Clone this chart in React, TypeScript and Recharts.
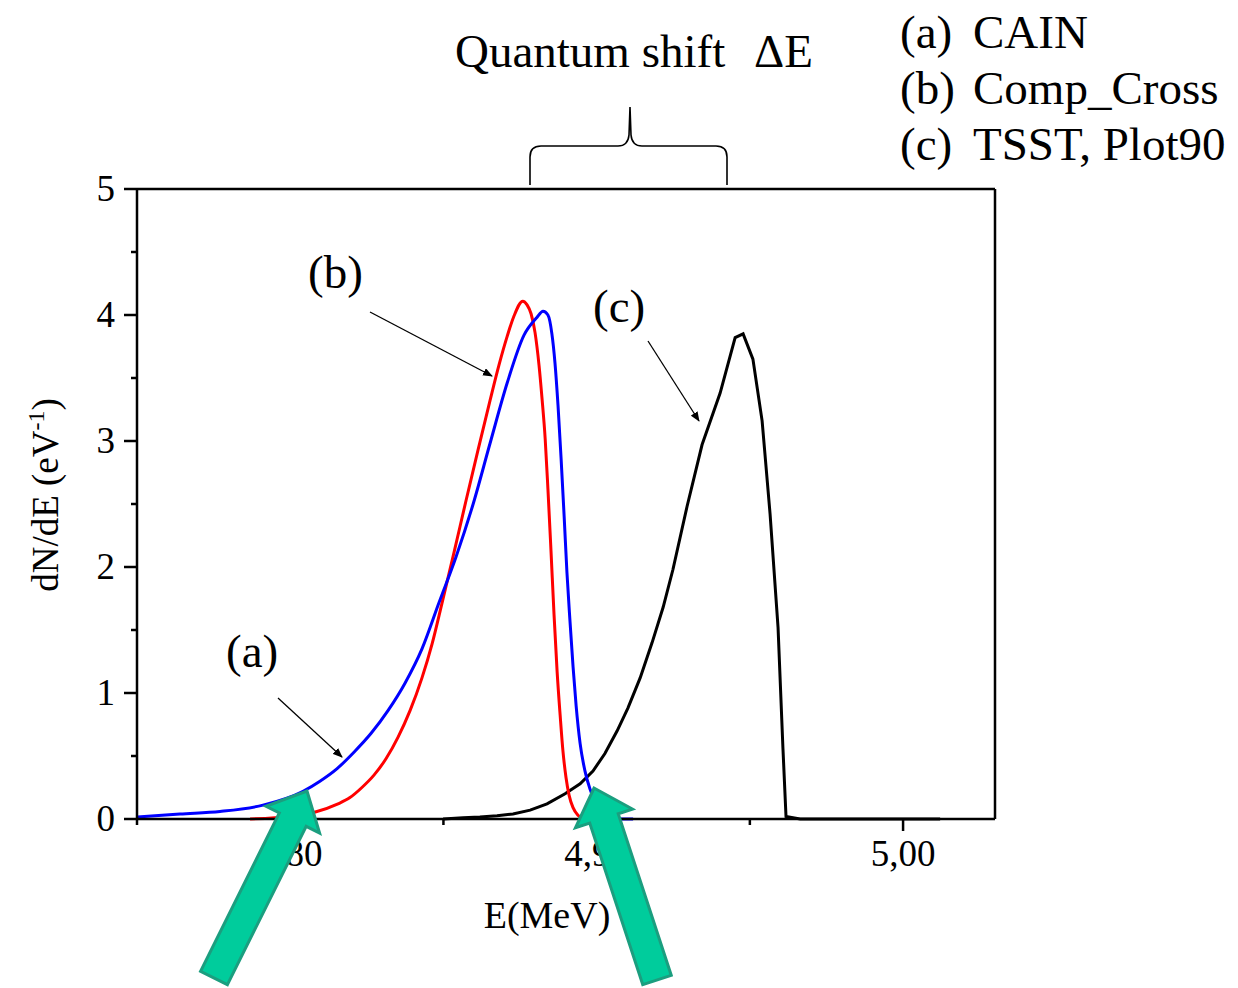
import { LineChart, Line, XAxis, YAxis, ReferenceLine } from "recharts";

// (a) CAIN
const cainEnergy = [4.75, 4.764, 4.7771, 4.7911, 4.8042, 4.8097, 4.8153, 4.8208, 4.8264, 4.8319, 4.8375, 4.843, 4.8486, 4.8541, 4.8597, 4.8652, 4.8708, 4.8763, 4.8805, 4.8825, 4.8841, 4.8854, 4.8864, 4.8874, 4.8884, 4.8894, 4.8903, 4.8913, 4.8923, 4.8933, 4.8946, 4.8962, 4.8978, 4.8995, 4.9011, 4.9034, 4.9076, 4.9119];
const cainValues = [0.015, 0.04, 0.06, 0.11, 0.22, 0.3, 0.4, 0.53, 0.68, 0.86, 1.08, 1.35, 1.72, 2.08, 2.5, 2.98, 3.46, 3.84, 3.98, 4.03, 4.0, 3.85, 3.62, 3.28, 2.86, 2.4, 1.96, 1.57, 1.21, 0.9, 0.6, 0.38, 0.24, 0.14, 0.07, 0.02, 0, 0];

// (b) Comp_Cross
const compEnergy = [4.7869, 4.7999, 4.8074, 4.8156, 4.8195, 4.8234, 4.8274, 4.8313, 4.8352, 4.8391, 4.843, 4.8463, 4.8495, 4.8535, 4.8574, 4.8613, 4.8652, 4.8681, 4.8708, 4.873, 4.8759, 4.8773, 4.8786, 4.8799, 4.8812, 4.8822, 4.8832, 4.8841, 4.8851, 4.8861, 4.8871, 4.8881, 4.889, 4.89, 4.891, 4.8923, 4.8939, 4.8956, 4.8995];
const compValues = [0, 0.02, 0.05, 0.12, 0.17, 0.25, 0.35, 0.48, 0.65, 0.86, 1.12, 1.39, 1.71, 2.12, 2.53, 2.93, 3.32, 3.6, 3.83, 3.99, 4.11, 4.08, 4.01, 3.86, 3.6, 3.33, 3.02, 2.62, 2.13, 1.62, 1.17, 0.82, 0.54, 0.33, 0.19, 0.09, 0.03, 0.005, 0];

// (c) TSST, Plot90
const tsstEnergy = [4.8499, 4.8564, 4.8619, 4.8675, 4.8727, 4.8783, 4.8838, 4.8897, 4.8946, 4.8988, 4.9027, 4.9067, 4.9102, 4.9142, 4.9181, 4.9217, 4.9249, 4.9295, 4.9344, 4.9403, 4.9452, 4.9478, 4.951, 4.954, 4.9566, 4.9592, 4.9608, 4.9618, 4.9664, 5.0121];
const tsstValues = [0, 0.01, 0.015, 0.025, 0.04, 0.07, 0.12, 0.2, 0.28, 0.38, 0.52, 0.7, 0.88, 1.12, 1.4, 1.68, 1.98, 2.48, 2.97, 3.38, 3.82, 3.85, 3.65, 3.16, 2.42, 1.52, 0.56, 0.02, 0, 0];

const xTicks = [4.75, 4.8, 4.85, 4.9, 4.95, 5.0];
const yTicks = [0, 0.5, 1, 1.5, 2, 2.5, 3, 3.5, 4, 4.5, 5];
const legendTags = ["(a)", "(b)", "(c)"];
const legendNames = ["CAIN", "Comp_Cross", "TSST, Plot90"];

const FONT = "'Liberation Serif', 'Times New Roman', serif";

const toPoints = (xs: number[], ys: number[]) => xs.map((e, i) => ({ e, v: ys[i] }));

const renderXTick = (props: any) => {
  const { x, y, payload } = props;
  const major = Math.round(payload.value * 100) % 10 === 0;
  return (
    <g>
      <line x1={x} y1={y} x2={x} y2={y + (major ? 12 : 6)} stroke="#000" strokeWidth={2.5} />
      {major && (
        <text x={x} y={y + 47} textAnchor="middle" fontSize={37} fontFamily={FONT} fill="#000">
          {payload.value.toFixed(2).replace(".", ",")}
        </text>
      )}
    </g>
  );
};

const renderYTick = (props: any) => {
  const { x, y, payload } = props;
  const major = Number.isInteger(payload.value);
  return (
    <g>
      <line x1={x} y1={y} x2={x - (major ? 13 : 6)} y2={y} stroke="#000" strokeWidth={2.5} />
      {major && (
        <text x={x - 22} y={y + 12} textAnchor="end" fontSize={37} fontFamily={FONT} fill="#000">
          {payload.value}
        </text>
      )}
    </g>
  );
};

const XLabel = (props: any) => {
  const { viewBox } = props;
  return (
    <text x={viewBox.x + viewBox.width / 2 - 19} y={viewBox.y + 109} textAnchor="middle" fontSize={38} fontFamily={FONT} fill="#000">
      E(MeV)
    </text>
  );
};

const YLabel = (props: any) => {
  const { viewBox } = props;
  const cx = viewBox.x + 28;
  const cy = viewBox.y + viewBox.height / 2 - 9;
  return (
    <text x={cx} y={cy} transform={`rotate(-90 ${cx} ${cy})`} textAnchor="middle" fontSize={37} fontFamily={FONT} fill="#000">
      dN/dE (eV<tspan dy={-14} fontSize={24}>-1</tspan><tspan dy={14}>)</tspan>
    </text>
  );
};

// big green pointer arrow, from tail centre to tip
function greenArrow(tx: number, ty: number, hx: number, hy: number) {
  const shaft = 30, head = 60, headLen = 32;
  const dx = hx - tx, dy = hy - ty;
  const len = Math.hypot(dx, dy);
  const ux = dx / len, uy = dy / len;
  const px = -uy, py = ux;
  const bx = hx - ux * headLen, by = hy - uy * headLen;
  const pts = [
    [tx + (px * shaft) / 2, ty + (py * shaft) / 2],
    [bx + (px * shaft) / 2, by + (py * shaft) / 2],
    [bx + (px * head) / 2, by + (py * head) / 2],
    [hx, hy],
    [bx - (px * head) / 2, by - (py * head) / 2],
    [bx - (px * shaft) / 2, by - (py * shaft) / 2],
    [tx - (px * shaft) / 2, ty - (py * shaft) / 2],
  ];
  return pts.map((p) => p.join(",")).join(" ");
}

export default function App() {
  return (
    <div style={{ position: "absolute", left: 0, top: 0, width: 1238, height: 988, background: "#fff" }}>
      <LineChart width={1238} height={988} margin={{ top: 189, right: 243, bottom: 39, left: 30 }}>
        <XAxis
          type="number"
          dataKey="e"
          domain={[4.75, 5.03]}
          ticks={xTicks}
          interval={0}
          tick={renderXTick}
          tickSize={0}
          tickMargin={0}
          tickLine={false}
          height={130}
          axisLine={{ stroke: "#000", strokeWidth: 2.5 }}
          label={<XLabel />}
        />
        <YAxis
          type="number"
          domain={[0, 5]}
          ticks={yTicks}
          interval={0}
          tick={renderYTick}
          tickSize={0}
          tickMargin={0}
          tickLine={false}
          width={107}
          axisLine={{ stroke: "#000", strokeWidth: 2.5 }}
          label={<YLabel />}
        />
        <ReferenceLine y={5} stroke="#000" strokeWidth={2.5} />
        <ReferenceLine x={5.03} stroke="#000" strokeWidth={2.5} />
        <Line data={toPoints(tsstEnergy, tsstValues)} dataKey="v" type="linear" stroke="#000" strokeWidth={3} dot={false} activeDot={false} isAnimationActive={false} />
        <Line data={toPoints(compEnergy, compValues)} dataKey="v" type="monotone" stroke="#ff0000" strokeWidth={3} dot={false} activeDot={false} isAnimationActive={false} />
        <Line data={toPoints(cainEnergy, cainValues)} dataKey="v" type="monotone" stroke="#0000ff" strokeWidth={3} dot={false} activeDot={false} isAnimationActive={false} />
      </LineChart>

      <svg width={1238} height={988} style={{ position: "absolute", left: 0, top: 0, pointerEvents: "none" }}>
        <defs>
          <marker id="head" markerWidth="10" markerHeight="8" refX="9" refY="4" orient="auto" markerUnits="userSpaceOnUse">
            <path d="M0,0 L10,4 L0,8 Z" fill="#000" />
          </marker>
        </defs>

        <text x={455} y={67} fontSize={47} fontFamily={FONT} fill="#000">Quantum shift</text>
        <text x={754} y={67} fontSize={47} fontFamily={FONT} fill="#000">ΔE</text>
        <path
          d="M530,185 L530,157 Q530,146 541,146 L618,146 Q628,146 629,135 L630,107 L631,135 Q632,146 642,146 L716,146 Q727,146 727,157 L727,185"
          fill="none"
          stroke="#000"
          strokeWidth={1.6}
        />

        {legendTags.map((tag, i) => (
          <g key={tag}>
            <text x={900} y={48 + i * 56} fontSize={47} fontFamily={FONT} fill="#000">{tag}</text>
            <text x={973} y={48 + i * 56} fontSize={47} fontFamily={FONT} fill="#000">{legendNames[i]}</text>
          </g>
        ))}

        <text x={226} y={667} fontSize={47} fontFamily={FONT} fill="#000">(a)</text>
        <text x={308} y={288} fontSize={47} fontFamily={FONT} fill="#000">(b)</text>
        <text x={593} y={322} fontSize={47} fontFamily={FONT} fill="#000">(c)</text>
        <line x1={278} y1={698} x2={342} y2={757} stroke="#000" strokeWidth={1.3} markerEnd="url(#head)" />
        <line x1={370} y1={312} x2={492} y2={376} stroke="#000" strokeWidth={1.3} markerEnd="url(#head)" />
        <line x1={648} y1={341} x2={699} y2={421} stroke="#000" strokeWidth={1.3} markerEnd="url(#head)" />

        <polygon points={greenArrow(214, 978, 307, 791)} fill="#00cc9c" stroke="#1b9e7f" strokeWidth={3} strokeLinejoin="miter" />
        <polygon points={greenArrow(657, 980, 594, 788)} fill="#00cc9c" stroke="#1b9e7f" strokeWidth={3} strokeLinejoin="miter" />
      </svg>
    </div>
  );
}
